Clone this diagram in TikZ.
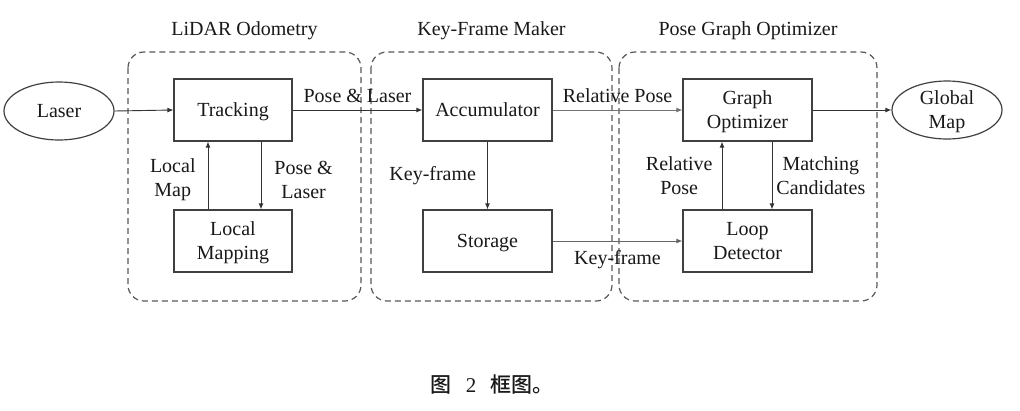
\documentclass[tikz,border=0pt]{standalone}
\usepackage{fontspec}
\setmainfont{Liberation Serif}
\newfontfamily\cjk{Noto Sans CJK SC}[UprightFont=* Medium]
\usetikzlibrary{arrows.meta,shapes.geometric}
\begin{document}
\begin{tikzpicture}[x=1pt,y=-1pt,
  font=\fontsize{20}{24}\selectfont,
  every node/.style={text=black!90},
  box/.style={draw=black!75,line width=1.2pt,minimum width=118pt,minimum height=62pt,align=center,inner sep=0pt,text depth=0pt},
  sbox/.style={box,minimum width=129pt},
  oval/.style={ellipse,draw=black!75,line width=1.2pt,minimum width=110pt,minimum height=58pt,align=center,inner sep=0pt,text depth=0pt},
  grp/.style={draw=black!65,line width=1.2pt,dash pattern=on 6pt off 4pt,rounded corners=16pt},
  conn/.style={draw=black!80,line width=0.9pt,-{Latex[length=6pt,width=5pt]}},
  lbl/.style={align=center,inner sep=2pt}
]
\useasboundingbox[fill=white] (0,0) rectangle (1020,410);
% groups
\draw[grp] (128,52) rectangle (361,301);
\draw[grp] (371,52) rectangle (612,301);
\draw[grp] (619,52) rectangle (877,301);
\node (t1) at (244.5,31) {LiDAR Odometry};
\node (t2) at (491.5,31) {Key-Frame Maker};
\node (t3) at (748,31) {Pose Graph Optimizer};
% nodes
\node[oval] (laser) at (59,111) {Laser};
\node[box] (track) at (233,110) {Tracking};
\node[box] (lmap) at (233,241) {Local\\Mapping};
\node[sbox] (acc) at (487.5,110) {Accumulator};
\node[sbox] (stor) at (487.5,241) {Storage};
\node[sbox] (gopt) at (747.5,110) {Graph\\Optimizer};
\node[sbox] (loop) at (747.5,241) {Loop\\Detector};
\node[oval] (gmap) at (947,110) {Global\\Map};
% connectors
\draw[conn] (laser.east) -- (track.west);
\draw[conn] (track.east) -- node[lbl,above,inner sep=7pt] {Pose \& Laser} (acc.west);
\draw[conn,draw=black!55] (acc.east) -- node[lbl,above,inner sep=7pt] {Relative Pose} (gopt.west);
\draw[conn] (gopt.east) -- (gmap.west);
\draw[conn] (lmap.north -| 208,0) -- node[lbl,left,inner sep=12pt,yshift=-4pt] {Local\\Map} (track.south -| 208,0);
\draw[conn] (track.south -| 261,0) -- node[lbl,right,inner sep=13pt,yshift=-4pt] {Pose \&\\Laser} (lmap.north -| 261,0);
\draw[conn] (acc.south) -- node[lbl,left,inner sep=11pt] {Key-frame} (stor.north);
\draw[conn,draw=black!60] (stor.east) -- node[lbl,below,inner sep=9pt] {Key-frame} (loop.west);
\draw[conn] (loop.north -| 722,0) -- node[lbl,left,inner sep=9pt] {Relative\\Pose} (gopt.south -| 722,0);
\draw[conn] (gopt.south -| 772,0) -- node[lbl,right,inner sep=4pt] {Matching\\Candidates} (loop.north -| 772,0);
% caption
\node (cap) at (492,385) {\fontsize{21}{24}\selectfont\cjk 图\hspace{14pt}\rmfamily 2\hspace{14pt}\cjk 框图。};
\end{tikzpicture}
\end{document}
